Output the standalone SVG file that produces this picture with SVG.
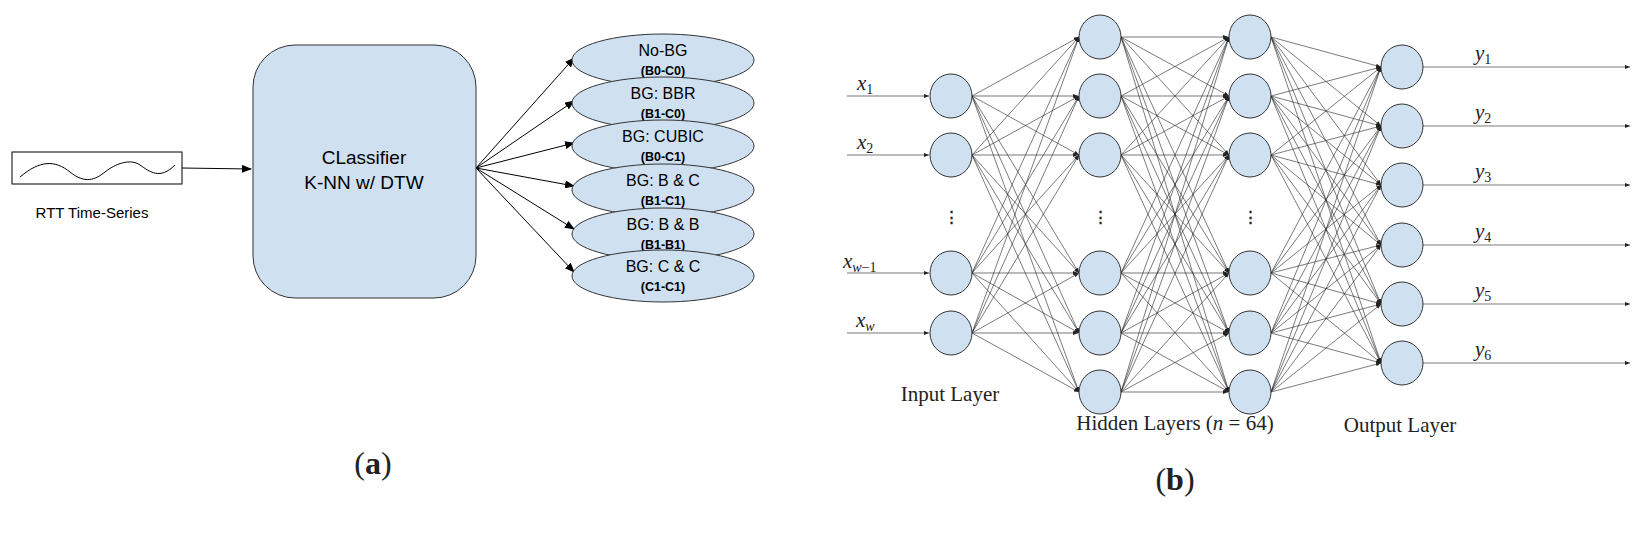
<svg xmlns="http://www.w3.org/2000/svg" width="1648" height="542" viewBox="0 0 1648 542">
<style>
.n{fill:#cfe0f1;stroke:#333;stroke-width:1}
.sf{font-family:"Liberation Sans",Arial,sans-serif}
.se{font-family:"Liberation Serif","Times New Roman",serif;fill:#222}
.e line{stroke:#222;stroke-width:0.6;marker-end:url(#s)}
.g{stroke:#bbb !important;stroke-width:2 !important}
.c{stroke:#000;stroke-width:1;fill:none}
.t1{font-size:16px}
.t2{font-size:12.5px;font-weight:bold}
</style>
<defs>
<marker id="a" markerWidth="10" markerHeight="8" refX="9" refY="4" orient="auto" markerUnits="userSpaceOnUse"><path d="M0,0 L10,4 L0,8 z" fill="#000"/></marker>
<marker id="s" markerWidth="5" markerHeight="4" refX="5" refY="2" orient="auto" markerUnits="userSpaceOnUse"><path d="M0,0 L5,2 L0,4 z" fill="#222"/></marker>
</defs>
<rect width="1648" height="542" fill="#fff"/>
<g id="conn-a">
<line class="c" x1="182" y1="168" x2="251" y2="169" marker-end="url(#a)"/>
<line class="c" x1="476" y1="168" x2="574" y2="58" marker-end="url(#a)"/>
<line class="c" x1="476" y1="168" x2="574" y2="101" marker-end="url(#a)"/>
<line class="c" x1="476" y1="168" x2="574" y2="143" marker-end="url(#a)"/>
<line class="c" x1="476" y1="168" x2="574" y2="186" marker-end="url(#a)"/>
<line class="c" x1="476" y1="168" x2="574" y2="229" marker-end="url(#a)"/>
<line class="c" x1="476" y1="168" x2="574" y2="272" marker-end="url(#a)"/>
</g>
<g id="input">
<rect x="12" y="152" width="170" height="32" fill="#fff" stroke="#000"/>
<path d="M20,177 C40,160 55,160 70,172 S95,180 105,172 S130,158 140,165 S160,180 175,165" fill="none" stroke="#000"/>
<text class="sf" x="92" y="218" font-size="15" text-anchor="middle">RTT Time-Series</text>
</g>
<g id="classifier">
<rect x="253" y="45" width="223" height="253" rx="42" class="n"/>
<text class="sf" x="364" y="164" font-size="19" text-anchor="middle">CLassifier</text>
<text class="sf" x="364" y="189" font-size="19" text-anchor="middle">K-NN w/ DTW</text>
</g>
<g id="o1"><ellipse cx="663" cy="60" rx="91" ry="26" class="n"/><text class="sf t1" x="663" y="56" text-anchor="middle">No-BG</text><text class="sf t2" x="663" y="75" text-anchor="middle">(B0-C0)</text></g>
<g id="o2"><ellipse cx="663" cy="103" rx="91" ry="26" class="n"/><text class="sf t1" x="663" y="99" text-anchor="middle">BG: BBR</text><text class="sf t2" x="663" y="118" text-anchor="middle">(B1-C0)</text></g>
<g id="o3"><ellipse cx="663" cy="146" rx="91" ry="26" class="n"/><text class="sf t1" x="663" y="142" text-anchor="middle">BG: CUBIC</text><text class="sf t2" x="663" y="161" text-anchor="middle">(B0-C1)</text></g>
<g id="o4"><ellipse cx="663" cy="190" rx="91" ry="26" class="n"/><text class="sf t1" x="663" y="186" text-anchor="middle">BG: B &amp; C</text><text class="sf t2" x="663" y="205" text-anchor="middle">(B1-C1)</text></g>
<g id="o5"><ellipse cx="663" cy="234" rx="91" ry="26" class="n"/><text class="sf t1" x="663" y="230" text-anchor="middle">BG: B &amp; B</text><text class="sf t2" x="663" y="249" text-anchor="middle">(B1-B1)</text></g>
<g id="o6"><ellipse cx="663" cy="276" rx="91" ry="26" class="n"/><text class="sf t1" x="663" y="272" text-anchor="middle">BG: C &amp; C</text><text class="sf t2" x="663" y="291" text-anchor="middle">(C1-C1)</text></g>
<text class="se" x="373" y="474" font-size="32" text-anchor="middle">(<tspan font-weight="bold">a</tspan>)</text>

<g id="connectors" class="e">
<line class="g" x1="847" y1="96" x2="929" y2="96"/>
<line class="g" x1="847" y1="155" x2="929" y2="155"/>
<line class="g" x1="847" y1="273" x2="929" y2="273"/>
<line class="g" x1="847" y1="333" x2="929" y2="333"/>
<line class="g" x1="972" y1="96" x2="1078" y2="96"/>
<line class="g" x1="972" y1="155" x2="1078" y2="155"/>
<line class="g" x1="972" y1="273" x2="1078" y2="273"/>
<line class="g" x1="972" y1="333" x2="1078" y2="333"/>
<line x1="972" y1="96" x2="1079" y2="37"/><line x1="972" y1="96" x2="1079" y2="155"/><line x1="972" y1="96" x2="1079" y2="273"/><line x1="972" y1="96" x2="1079" y2="333"/><line x1="972" y1="96" x2="1079" y2="392"/>
<line x1="972" y1="155" x2="1079" y2="37"/><line x1="972" y1="155" x2="1079" y2="96"/><line x1="972" y1="155" x2="1079" y2="273"/><line x1="972" y1="155" x2="1079" y2="333"/><line x1="972" y1="155" x2="1079" y2="392"/>
<line x1="972" y1="273" x2="1079" y2="37"/><line x1="972" y1="273" x2="1079" y2="96"/><line x1="972" y1="273" x2="1079" y2="155"/><line x1="972" y1="273" x2="1079" y2="333"/><line x1="972" y1="273" x2="1079" y2="392"/>
<line x1="972" y1="333" x2="1079" y2="37"/><line x1="972" y1="333" x2="1079" y2="96"/><line x1="972" y1="333" x2="1079" y2="155"/><line x1="972" y1="333" x2="1079" y2="273"/><line x1="972" y1="333" x2="1079" y2="392"/>
<line class="g" x1="1121" y1="37" x2="1228" y2="37"/>
<line class="g" x1="1121" y1="96" x2="1228" y2="96"/>
<line class="g" x1="1121" y1="155" x2="1228" y2="155"/>
<line class="g" x1="1121" y1="273" x2="1228" y2="273"/>
<line class="g" x1="1121" y1="333" x2="1228" y2="333"/>
<line class="g" x1="1121" y1="392" x2="1228" y2="392"/>
<line x1="1121" y1="37" x2="1229" y2="96"/><line x1="1121" y1="37" x2="1229" y2="155"/><line x1="1121" y1="37" x2="1229" y2="273"/><line x1="1121" y1="37" x2="1229" y2="333"/><line x1="1121" y1="37" x2="1229" y2="392"/>
<line x1="1121" y1="96" x2="1229" y2="37"/><line x1="1121" y1="96" x2="1229" y2="155"/><line x1="1121" y1="96" x2="1229" y2="273"/><line x1="1121" y1="96" x2="1229" y2="333"/><line x1="1121" y1="96" x2="1229" y2="392"/>
<line x1="1121" y1="155" x2="1229" y2="37"/><line x1="1121" y1="155" x2="1229" y2="96"/><line x1="1121" y1="155" x2="1229" y2="273"/><line x1="1121" y1="155" x2="1229" y2="333"/><line x1="1121" y1="155" x2="1229" y2="392"/>
<line x1="1121" y1="273" x2="1229" y2="37"/><line x1="1121" y1="273" x2="1229" y2="96"/><line x1="1121" y1="273" x2="1229" y2="155"/><line x1="1121" y1="273" x2="1229" y2="333"/><line x1="1121" y1="273" x2="1229" y2="392"/>
<line x1="1121" y1="333" x2="1229" y2="37"/><line x1="1121" y1="333" x2="1229" y2="96"/><line x1="1121" y1="333" x2="1229" y2="155"/><line x1="1121" y1="333" x2="1229" y2="273"/><line x1="1121" y1="333" x2="1229" y2="392"/>
<line x1="1121" y1="392" x2="1229" y2="37"/><line x1="1121" y1="392" x2="1229" y2="96"/><line x1="1121" y1="392" x2="1229" y2="155"/><line x1="1121" y1="392" x2="1229" y2="273"/><line x1="1121" y1="392" x2="1229" y2="333"/>
<line x1="1271" y1="37" x2="1381" y2="67"/><line x1="1271" y1="37" x2="1381" y2="126"/><line x1="1271" y1="37" x2="1381" y2="185"/><line x1="1271" y1="37" x2="1381" y2="245"/><line x1="1271" y1="37" x2="1381" y2="304"/><line x1="1271" y1="37" x2="1381" y2="363"/>
<line x1="1271" y1="96" x2="1381" y2="67"/><line x1="1271" y1="96" x2="1381" y2="126"/><line x1="1271" y1="96" x2="1381" y2="185"/><line x1="1271" y1="96" x2="1381" y2="245"/><line x1="1271" y1="96" x2="1381" y2="304"/><line x1="1271" y1="96" x2="1381" y2="363"/>
<line x1="1271" y1="155" x2="1381" y2="67"/><line x1="1271" y1="155" x2="1381" y2="126"/><line x1="1271" y1="155" x2="1381" y2="185"/><line x1="1271" y1="155" x2="1381" y2="245"/><line x1="1271" y1="155" x2="1381" y2="304"/><line x1="1271" y1="155" x2="1381" y2="363"/>
<line x1="1271" y1="273" x2="1381" y2="67"/><line x1="1271" y1="273" x2="1381" y2="126"/><line x1="1271" y1="273" x2="1381" y2="185"/><line x1="1271" y1="273" x2="1381" y2="245"/><line x1="1271" y1="273" x2="1381" y2="304"/><line x1="1271" y1="273" x2="1381" y2="363"/>
<line x1="1271" y1="333" x2="1381" y2="67"/><line x1="1271" y1="333" x2="1381" y2="126"/><line x1="1271" y1="333" x2="1381" y2="185"/><line x1="1271" y1="333" x2="1381" y2="245"/><line x1="1271" y1="333" x2="1381" y2="304"/><line x1="1271" y1="333" x2="1381" y2="363"/>
<line x1="1271" y1="392" x2="1381" y2="67"/><line x1="1271" y1="392" x2="1381" y2="126"/><line x1="1271" y1="392" x2="1381" y2="185"/><line x1="1271" y1="392" x2="1381" y2="245"/><line x1="1271" y1="392" x2="1381" y2="304"/><line x1="1271" y1="392" x2="1381" y2="363"/>
<line x1="1423" y1="67" x2="1630" y2="67"/><line x1="1423" y1="126" x2="1630" y2="126"/><line x1="1423" y1="185" x2="1630" y2="185"/><line x1="1423" y1="245" x2="1630" y2="245"/><line x1="1423" y1="304" x2="1630" y2="304"/><line x1="1423" y1="363" x2="1630" y2="363"/>
</g>
<g id="layer-in">
<ellipse cx="951" cy="96" rx="21" ry="22" class="n"/><ellipse cx="951" cy="155" rx="21" ry="22" class="n"/><ellipse cx="951" cy="273" rx="21" ry="22" class="n"/><ellipse cx="951" cy="333" rx="21" ry="22" class="n"/>
</g>
<g id="layer-h1">
<ellipse cx="1100" cy="37" rx="21" ry="22" class="n"/><ellipse cx="1100" cy="96" rx="21" ry="22" class="n"/><ellipse cx="1100" cy="155" rx="21" ry="22" class="n"/><ellipse cx="1100" cy="273" rx="21" ry="22" class="n"/><ellipse cx="1100" cy="333" rx="21" ry="22" class="n"/><ellipse cx="1100" cy="392" rx="21" ry="22" class="n"/>
</g>
<g id="layer-h2">
<ellipse cx="1250" cy="37" rx="21" ry="22" class="n"/><ellipse cx="1250" cy="96" rx="21" ry="22" class="n"/><ellipse cx="1250" cy="155" rx="21" ry="22" class="n"/><ellipse cx="1250" cy="273" rx="21" ry="22" class="n"/><ellipse cx="1250" cy="333" rx="21" ry="22" class="n"/><ellipse cx="1250" cy="392" rx="21" ry="22" class="n"/>
</g>
<g id="layer-out">
<ellipse cx="1402" cy="67" rx="21" ry="22" class="n"/><ellipse cx="1402" cy="126" rx="21" ry="22" class="n"/><ellipse cx="1402" cy="185" rx="21" ry="22" class="n"/><ellipse cx="1402" cy="245" rx="21" ry="22" class="n"/><ellipse cx="1402" cy="304" rx="21" ry="22" class="n"/><ellipse cx="1402" cy="363" rx="21" ry="22" class="n"/>
</g>
<g id="labels" class="se" font-size="21">
<text x="951" y="222" text-anchor="middle" font-size="15" font-weight="bold">⋮</text>
<text x="1100" y="222" text-anchor="middle" font-size="15" font-weight="bold">⋮</text>
<text x="1250" y="222" text-anchor="middle" font-size="15" font-weight="bold">⋮</text>
<text x="857" y="90" font-style="italic">x<tspan font-size="14" font-style="normal" dy="4">1</tspan></text>
<text x="857" y="149" font-style="italic">x<tspan font-size="14" font-style="normal" dy="4">2</tspan></text>
<text x="843" y="268" font-style="italic">x<tspan font-size="14" dy="4">w</tspan><tspan font-size="14" font-style="normal">−1</tspan></text>
<text x="856" y="327" font-style="italic">x<tspan font-size="14" dy="4">w</tspan></text>
<text x="1475" y="60" font-style="italic">y<tspan font-size="14" font-style="normal" dy="4">1</tspan></text>
<text x="1475" y="119" font-style="italic">y<tspan font-size="14" font-style="normal" dy="4">2</tspan></text>
<text x="1475" y="178" font-style="italic">y<tspan font-size="14" font-style="normal" dy="4">3</tspan></text>
<text x="1475" y="238" font-style="italic">y<tspan font-size="14" font-style="normal" dy="4">4</tspan></text>
<text x="1475" y="297" font-style="italic">y<tspan font-size="14" font-style="normal" dy="4">5</tspan></text>
<text x="1475" y="356" font-style="italic">y<tspan font-size="14" font-style="normal" dy="4">6</tspan></text>
<text x="950" y="401" text-anchor="middle">Input Layer</text>
<text x="1175" y="430" text-anchor="middle">Hidden Layers (<tspan font-style="italic">n</tspan> = 64)</text>
<text x="1400" y="432" text-anchor="middle">Output Layer</text>
<text x="1175" y="490" font-size="32" text-anchor="middle">(<tspan font-weight="bold">b</tspan>)</text>
</g>
</svg>
